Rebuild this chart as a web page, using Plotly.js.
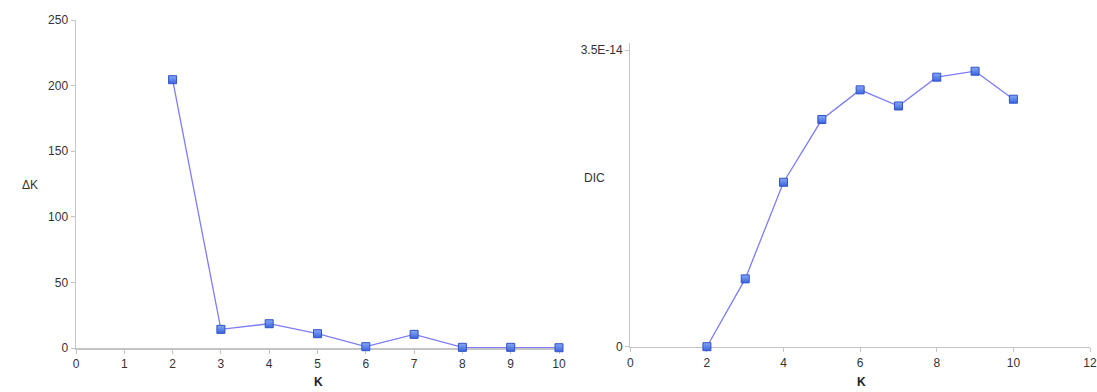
<!DOCTYPE html>
<html>
<head>
<meta charset="utf-8">
<script src="https://cdn.plot.ly/plotly-3.0.1.min.js"></script>
<style>
  html, body { margin: 0; padding: 0; background: #fff; }
  #chart { width: 1097px; height: 392px; }
</style>
</head>
<body>
<div id="chart"></div>
<script>
// Number of clusters K tested
const kValues = [2, 3, 4, 5, 6, 7, 8, 9, 10];
// Evanno delta K for each K
const deltaK = [204.5, 14.2, 18.5, 10.9, 1.0, 10.4, 0.5, 0.5, 0.2];
// DIC for each K
const dic = [0, 0.80e-14, 1.94e-14, 2.68e-14, 3.03e-14, 2.84e-14, 3.18e-14, 3.25e-14, 2.92e-14];

// Axis tick labels
const leftXTicks = [0, 1, 2, 3, 4, 5, 6, 7, 8, 9, 10];
const leftYTicks = [0, 50, 100, 150, 200, 250];
const rightXTicks = [0, 2, 4, 6, 8, 10, 12];
const rightYTickVals = [0, 3.5e-14];
const rightYTickText = ['0', '3.5E-14'];

const W = 1097, H = 392;
const FONT = 'Liberation Sans, Arial, Helvetica, sans-serif';

const markerStyle = {
  symbol: 'square',
  size: 8,
  color: '#86a9f6',
  gradient: { type: 'vertical', color: '#3b64dc' },
  line: { color: '#2f52c8', width: 1 }
};
const lineStyle = { color: '#7d7df7', width: 1.3 };

const traces = [
  { x: kValues, y: deltaK, xaxis: 'x', yaxis: 'y', mode: 'lines+markers',
    line: lineStyle, marker: markerStyle, cliponaxis: false, hoverinfo: 'x+y' },
  { x: kValues, y: dic, xaxis: 'x2', yaxis: 'y2', mode: 'lines+markers',
    line: lineStyle, marker: markerStyle, cliponaxis: false, hoverinfo: 'x+y' }
];

const axisBase = {
  showgrid: false, zeroline: false, layer: 'below traces',
  showline: true, linecolor: '#c4c4c4', linewidth: 1.5,
  ticks: 'outside', ticklen: 4, tickcolor: '#c4c4c4', tickwidth: 1,
  tickfont: { family: FONT, size: 12, color: '#333' },
  fixedrange: true
};

const layout = {
  width: W, height: H,
  margin: { l: 0, r: 0, t: 0, b: 0 },
  paper_bgcolor: '#fff', plot_bgcolor: '#fff',
  showlegend: false,
  font: { family: FONT, color: '#333' },
  xaxis: Object.assign({}, axisBase, {
    domain: [76 / W, 559 / W], range: [0, 10],
    tickmode: 'array', tickvals: leftXTicks, anchor: 'y'
  }),
  yaxis: Object.assign({}, axisBase, {
    domain: [(H - 348) / H, (H - 20) / H], range: [0, 250],
    tickmode: 'array', tickvals: leftYTicks, anchor: 'x'
  }),
  xaxis2: Object.assign({}, axisBase, {
    domain: [630.3 / W, 1090 / W], range: [0, 12],
    tickmode: 'array', tickvals: rightXTicks, anchor: 'y2'
  }),
  yaxis2: Object.assign({}, axisBase, {
    domain: [(H - 346.7) / H, (H - 43) / H], range: [0, 3.583e-14],
    tickmode: 'array', tickvals: rightYTickVals, ticktext: rightYTickText,
    anchor: 'x2', linewidth: 1.2
  }),
  annotations: [
    { text: 'ΔK', x: 30, y: H - 185, xref: 'paper', yref: 'paper',
      xanchor: 'center', yanchor: 'middle', showarrow: false,
      font: { family: FONT, size: 12, color: '#333' } },
    { text: '<b>K</b>', x: 318, y: H - 382, xref: 'paper', yref: 'paper',
      xanchor: 'center', yanchor: 'middle', showarrow: false,
      font: { family: FONT, size: 12, color: '#222' } },
    { text: 'DIC', x: 594, y: H - 178, xref: 'paper', yref: 'paper',
      xanchor: 'center', yanchor: 'middle', showarrow: false,
      font: { family: FONT, size: 12, color: '#333' } },
    { text: '<b>K</b>', x: 861, y: H - 382, xref: 'paper', yref: 'paper',
      xanchor: 'center', yanchor: 'middle', showarrow: false,
      font: { family: FONT, size: 12, color: '#222' } }
  ]
};
// convert pixel positions of annotations to paper fractions
layout.annotations.forEach(a => { a.x = a.x / W; a.y = a.y / H; });

Plotly.newPlot('chart', traces, layout, { displayModeBar: false, staticPlot: true });
</script>
</body>
</html>
